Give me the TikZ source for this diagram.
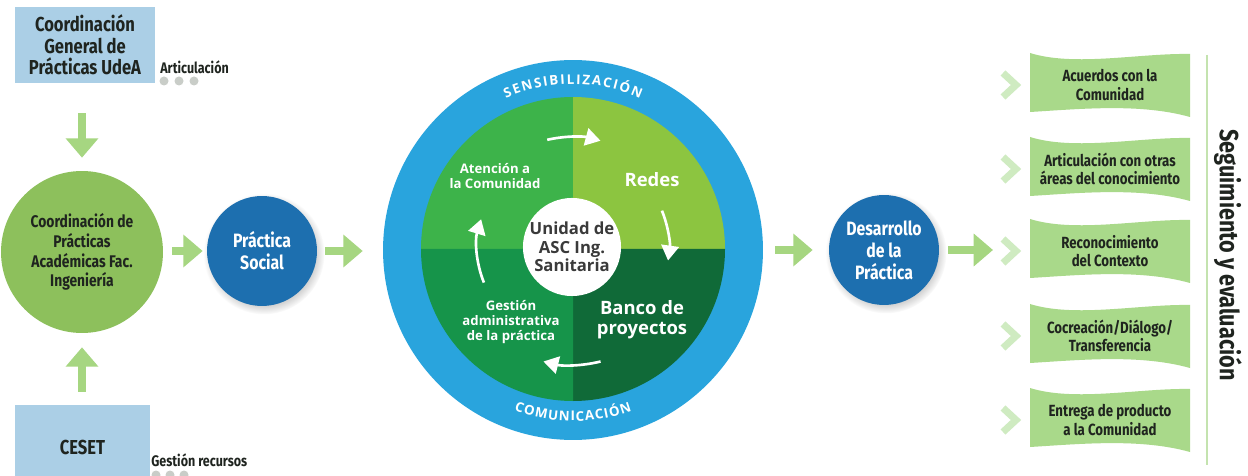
\documentclass[tikz,border=0pt]{standalone}
\usepackage{fontspec}
\usepackage{tikz}
\usetikzlibrary{arrows.meta,shadows,decorations.text}
\newfontfamily\condfont[FakeStretch=0.82]{Fira Sans}
\newfontfamily\roundfont{Open Sans}
\definecolor{boxblue}{HTML}{ABCFE6}
\definecolor{leafgreen}{HTML}{8DC05C}
\definecolor{arrowgreen}{HTML}{A6D681}
\definecolor{deepblue}{HTML}{1D6FAF}
\definecolor{ringblue}{HTML}{29A4DD}
\definecolor{quadA}{HTML}{3DB34A}
\definecolor{quadB}{HTML}{8CC540}
\definecolor{quadC}{HTML}{16944A}
\definecolor{quadD}{HTML}{106A38}
\definecolor{flaggreen}{HTML}{A9D98A}
\definecolor{chevgreen}{HTML}{CFEBC1}
\definecolor{railgreen}{HTML}{C4E3AF}
\definecolor{dotgrey}{HTML}{C9CDC8}
\definecolor{inkdark}{HTML}{1F241F}
\definecolor{centregrey}{HTML}{3A3A3A}
\begin{document}
\begin{tikzpicture}[x=0.02cm,y=-0.02cm,
    every node/.style={inner sep=0pt},
    infobox/.style={fill=boxblue, text=inkdark, align=center,
        font=\condfont\bfseries\fontsize{11.5}{12.2}\selectfont},
    smalllabel/.style={anchor=west, text=inkdark,
        font=\condfont\bfseries\fontsize{8.7}{10}\selectfont},
    greenball/.style={circle, fill=leafgreen, minimum size=3.24cm, text=inkdark, align=center,
        font=\condfont\bfseries\fontsize{9.6}{11.3}\selectfont},
    blueball/.style={circle, fill=deepblue, minimum size=2.2cm, text=white, align=center,
        font=\condfont\bfseries\fontsize{11}{12.6}\selectfont,
        circular drop shadow={shadow xshift=1pt, shadow yshift=-1.5pt, opacity=0.35}},
    flow/.style={color=arrowgreen, line width=4.5pt, -{Triangle[length=11pt,width=18pt]}},
    cyc/.style={color=white, line width=1.5pt, -{Triangle[length=8.5pt,width=10pt]}},
    quadtext/.style={text=white, align=center,
        font=\roundfont\bfseries\fontsize{7.5}{8.6}\selectfont},
    bigquad/.style={quadtext, font=\roundfont\bfseries\fontsize{10.5}{11.4}\selectfont},
    flagtext/.style={text=inkdark, align=center,
        font=\condfont\bfseries\fontsize{9.2}{10.4}\selectfont},
    chevron/.style={draw=chevgreen, line width=4pt}]
    \path[use as bounding box, fill=white] (0,0) rectangle (1248,476);

    \node[infobox, minimum width=2.8cm, minimum height=1.52cm] (udea) at (85,45) {Coordinación\\General de\\Prácticas UdeA};
    \node[smalllabel] (articulacion) at (160,67) {Articulación};
    \foreach \dx in {0,15,30}
        \fill[dotgrey] (164+\dx,81) circle (4.5);

    \node[greenball] (facultad) at (82,252) {Coordinación de\\Prácticas\\Académicas Fac.\\Ingeniería};

    \node[infobox, minimum width=2.7cm, minimum height=1.68cm] (ceset) at (82.5,447) {CESET};
    \node[smalllabel] (recursos) at (151,460) {Gestión recursos};
    \foreach \dx in {0,14,28}
        \fill[dotgrey] (156+\dx,475) circle (4.5);

    \node[blueball] (social) at (262,251) {Práctica\\Social};

    \node[circle, fill=ringblue, minimum size=7.6cm] (ring) at (573,250) {};
    \coordinate (hub) at (573,249);
    \fill[quadA] (hub) -- ++(-152,0) arc (180:270:152) -- cycle;
    \fill[quadB] (hub) -- ++(0,-152) arc (270:360:152) -- cycle;
    \fill[quadD] (hub) -- ++(152,0) arc (0:90:152) -- cycle;
    \fill[quadC] (hub) -- ++(0,152) arc (90:180:152) -- cycle;
    \path[decorate, decoration={text along path, text align={fit to path}, text color=white,
        text={|\roundfont\bfseries\fontsize{7.6}{9}\selectfont|SENSIBILIZACIÓN}}]
        (hub) ++(-114:165) arc (-114:-66:165);
    \path[decorate, decoration={text along path, text align={fit to path}, text color=white,
        text={|\roundfont\bfseries\fontsize{7.6}{9}\selectfont|COMUNICACIÓN}}]
        (hub) ++(110:172) arc (110:70:172);

    \node[circle, fill=white, minimum size=1.88cm, text=centregrey, align=center,
        font=\roundfont\bfseries\fontsize{9.5}{10.6}\selectfont] (unidad) at (572,247) {Unidad de\\ASC Ing.\\Sanitaria};
    \node[quadtext] (atencion) at (495,176) {Atención a\\la Comunidad};
    \node[bigquad] (redes) at (652,180) {Redes};
    \node[bigquad] (banco) at (642,320) {Banco de\\proyectos};
    \node[quadtext] (gestion) at (511,322) {Gestión\\administrativa\\de la práctica};
    \draw[cyc] (unidad.center) ++(-103:110) arc (-103:-75:110);
    \draw[cyc] (unidad.center) ++(-22:97) arc (-22:8:97);
    \draw[cyc] (unidad.center) ++(76:118) arc (76:104:118);
    \draw[cyc] (unidad.center) ++(158:95) arc (158:197:95);

    \node[blueball] (desarrollo) at (884,250) {Desarrollo\\de la\\Práctica};

    \foreach \nm/\yc/\txt in {acuerdos/85/{Acuerdos con la\\Comunidad},
            areas/169/{Articulación con otras\\áreas del conocimiento},
            contexto/251/{Reconocimiento\\del Contexto},
            cocreacion/336/{Cocreación/Diálogo/\\Transferencia},
            entrega/420/{Entrega de producto\\a la Comunidad}} {
        \fill[flaggreen] (1030,\yc-32) .. controls (1075,\yc-18) and (1140,\yc-32) .. (1190,\yc-31)
            -- (1190,\yc+32) .. controls (1140,\yc+18) and (1080,\yc+24) .. (1030,\yc+27) -- cycle;
        \node[flagtext] (\nm) at (1110,\yc) {\txt};
        \draw[chevron] (1003,\yc-12) -- (1016,\yc) -- (1003,\yc+12);
        \coordinate (chev-\nm) at (1003,\yc);
    }
    \draw[railgreen, line width=0.9pt] (1207,55) -- (1207,465);
    \node[rotate=-90, text=inkdark, font=\condfont\bfseries\fontsize{15}{17}\selectfont] (seguimiento) at (1228,255) {Seguimiento y evaluación};

    \draw[flow, shorten <=0.6cm, shorten >=0.26cm] (udea.south -| facultad.north) -- (facultad.north);
    \draw[flow, shorten <=0.26cm, shorten >=0.28cm] (ceset.north -| facultad.south) -- (facultad.south);
    \draw[flow, shorten <=0.18cm, shorten >=0.08cm] (facultad.east |- social.east) -- (social.east -| social.west);
    \draw[flow, shorten <=0.16cm, shorten >=0.4cm] (social.east) -- (social.east -| ring.west);
    \draw[flow, shorten <=0.24cm, shorten >=0.32cm] (ring.east) -- (ring.east -| desarrollo.west);
    \draw[flow, shorten <=0.18cm, shorten >=0.2cm] (desarrollo.east) -- (desarrollo.east -| chev-contexto);
\end{tikzpicture}
\end{document}
